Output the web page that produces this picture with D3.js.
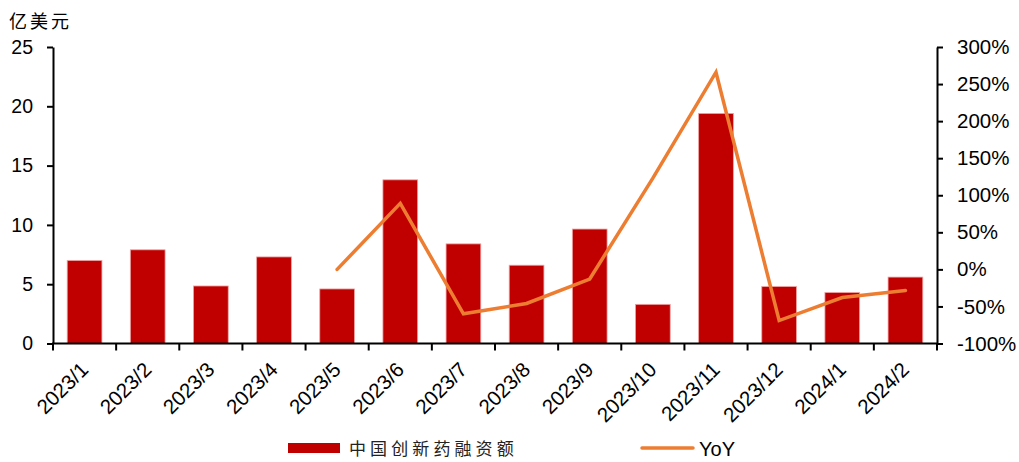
<!DOCTYPE html>
<html>
<head>
<meta charset="utf-8">
<script src="https://cdn.jsdelivr.net/npm/d3@7"></script>
<style>
  html, body { margin: 0; padding: 0; background: #fff; }
  svg { display: block; }
</style>
</head>
<body>
<svg id="chart" width="1019" height="462"></svg>
<script>
const categories = ["2023/1","2023/2","2023/3","2023/4","2023/5","2023/6","2023/7","2023/8","2023/9","2023/10","2023/11","2023/12","2024/1","2024/2"];
const financing = [7.0, 7.9, 4.85, 7.3, 4.6, 13.8, 8.4, 6.6, 9.65, 3.3, 19.4, 4.8, 4.3, 5.6];
const yoy = [null, null, null, null, 0.00, 0.89, -0.60, -0.46, -0.13, 1.23, 2.66, -0.69, -0.38, -0.285];
const leftTicks = [0, 5, 10, 15, 20, 25];
const rightTicks = [-1, -0.5, 0, 0.5, 1, 1.5, 2, 2.5, 3];
const unitLabel = "亿美元";
const seriesNames = ["中国创新药融资额", "YoY"];

const svg = d3.select("#chart");
const L = 53, R = 937, T = 47, B = 343.5;
const latin = "'Liberation Sans', Arial, sans-serif";
const cjk = "'Noto Sans CJK SC', sans-serif";

const x = d3.scaleBand().domain(categories).range([L, R]).paddingInner(0.45).paddingOuter(0.225);
const yL = d3.scaleLinear().domain([0, 25]).range([B, T]);
const yR = d3.scaleLinear().domain([-1, 3]).range([B, T]);

// bars
svg.append("g").selectAll("rect").data(financing).join("rect")
  .attr("x", (d, i) => x(categories[i]))
  .attr("y", d => yL(d))
  .attr("width", x.bandwidth())
  .attr("height", d => yL(0) - yL(d))
  .attr("fill", "#C00000")
  .attr("stroke", "#EFA3A3")
  .attr("stroke-width", 0.8);

// line
const pts = yoy.map((v, i) => ({c: categories[i], v})).filter(d => d.v !== null);
svg.append("path").datum(pts)
  .attr("fill", "none")
  .attr("stroke", "#ED7D31")
  .attr("stroke-width", 3.5)
  .attr("stroke-linecap", "round")
  .attr("stroke-linejoin", "miter")
  .attr("d", d3.line().x(d => x(d.c) + x.bandwidth() / 2).y(d => yR(d.v)));

// axes
function styleAxis(g, size) {
  g.select(".domain").attr("stroke", "#000").attr("stroke-width", 2);
  g.selectAll(".tick line").attr("stroke", "#000").attr("stroke-width", 2);
  g.selectAll("text").attr("fill", "#000").style("font-family", latin).style("font-size", size);
}

const gL = svg.append("g").attr("transform", `translate(${L},0)`)
  .call(d3.axisLeft(yL).tickValues(leftTicks).tickSize(6).tickSizeOuter(0).tickPadding(14));
styleAxis(gL, "19.5px");

const gR = svg.append("g").attr("transform", `translate(${R},0)`)
  .call(d3.axisRight(yR).tickValues(rightTicks).tickSize(6).tickSizeOuter(0).tickPadding(14)
    .tickFormat(d => Math.round(d * 100) + "%"));
styleAxis(gR, "20.5px");

// bottom axis: ticks at category boundaries
const step = x.step();
const boundaries = d3.range(categories.length + 1).map(i => L + i * step);
const gB = svg.append("g").attr("transform", `translate(0,${B})`);
gB.append("line").attr("x1", L - 1).attr("x2", R + 1).attr("y1", 0).attr("y2", 0)
  .attr("stroke", "#000").attr("stroke-width", 2);
gB.selectAll("line.tk").data(boundaries).join("line").attr("class", "tk")
  .attr("x1", d => d).attr("x2", d => d).attr("y1", 0).attr("y2", 7)
  .attr("stroke", "#000").attr("stroke-width", 2);
gB.selectAll("text").data(categories).join("text")
  .attr("transform", d => `translate(${x(d) + x.bandwidth() / 2 + 5},${371 - B}) rotate(-45)`)
  .attr("text-anchor", "end")
  .attr("fill", "#000")
  .style("font-family", latin).style("font-size", "20.5px")
  .text(d => d);

// unit label
svg.append("text").attr("x", 9).attr("y", 28)
  .style("font-family", cjk).style("font-size", "18px").style("letter-spacing", "3px")
  .attr("fill", "#000").text(unitLabel);

// legend
const lg = svg.append("g");
lg.append("rect").attr("x", 288).attr("y", 443).attr("width", 52).attr("height", 10).attr("fill", "#C00000");
lg.append("text").attr("x", 349).attr("y", 455)
  .style("font-family", cjk).style("font-size", "17px").style("letter-spacing", "4.1px")
  .attr("fill", "#222").text(seriesNames[0]);
lg.append("line").attr("x1", 642).attr("x2", 693).attr("y1", 448).attr("y2", 448)
  .attr("stroke", "#ED7D31").attr("stroke-width", 3.5).attr("stroke-linecap", "round");
lg.append("text").attr("x", 699).attr("y", 455.5)
  .style("font-family", latin).style("font-size", "20px")
  .attr("fill", "#000").text(seriesNames[1]);
</script>
</body>
</html>
